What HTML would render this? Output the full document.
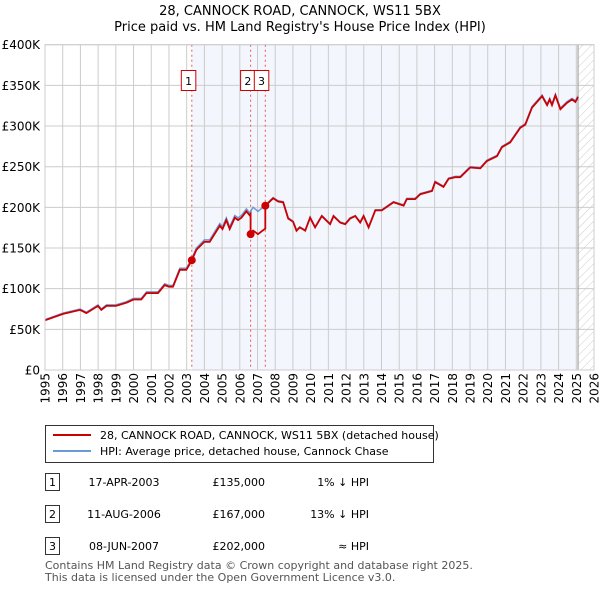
<!DOCTYPE html>
<html><head><meta charset="utf-8"><style>
body{margin:0;background:#fff;font-family:"Liberation Sans","DejaVu Sans",sans-serif;}
svg text{font-family:"DejaVu Sans","Liberation Sans",sans-serif;}
</style></head><body>
<svg id="c" width="600" height="590" viewBox="0 0 600 590" xmlns="http://www.w3.org/2000/svg">
<defs><pattern id="hatch" width="6" height="6" patternUnits="userSpaceOnUse" patternTransform="rotate(45)"><line x1="0" y1="0" x2="0" y2="6" stroke="#ccc" stroke-width="1"/></pattern></defs>
<text x="300" y="15" text-anchor="middle" font-size="13">28, CANNOCK ROAD, CANNOCK, WS11 5BX</text>
<text x="300" y="31" text-anchor="middle" font-size="13">Price paid vs. HM Land Registry's House Price Index (HPI)</text>
<g id="plot"></g>
<g>
<rect x="45.5" y="425.5" width="388" height="37" fill="#fff" stroke="#333"/>
<line x1="53" y1="435" x2="91" y2="435" stroke="#c00" stroke-width="2"/>
<text x="100" y="439" font-size="11">28, CANNOCK ROAD, CANNOCK, WS11 5BX (detached house)</text>
<line x1="53" y1="451" x2="91" y2="451" stroke="#6a9ad8" stroke-width="2"/>
<text x="100" y="455" font-size="11">HPI: Average price, detached house, Cannock Chase</text>
</g>
<g id="table" font-size="11"></g>
<text x="45" y="569" font-size="11" fill="#555">Contains HM Land Registry data © Crown copyright and database right 2025.</text>
<text x="45" y="581" font-size="11" fill="#555">This data is licensed under the Open Government Licence v3.0.</text>
</svg>
<script>
const hpiYears=[1995.0,1996.02,1996.98,1997.34,1997.99,1998.18,1998.47,1999.01,1999.6,1999.99,2000.44,2000.73,2001.01,2001.38,2001.76,2002.0,2002.23,2002.61,2002.98,2003.27,2003.55,2004.0,2004.3,2004.87,2005.02,2005.24,2005.43,2005.72,2005.9,2006.09,2006.37,2006.56,2006.75,2007.03,2007.45,2007.88,2008.16,2008.45,2008.73,2009.01,2009.2,2009.39,2009.69,2009.97,2010.25,2010.63,2011.1,2011.29,2011.67,2011.95,2012.23,2012.52,2012.8,2012.99,2013.27,2013.65,2014.02,2014.68,2015.25,2015.43,2015.9,2016.19,2016.85,2017.03,2017.5,2017.79,2018.16,2018.45,2019.01,2019.58,2019.95,2020.52,2020.8,2021.27,2021.84,2022.12,2022.5,2023.07,2023.35,2023.5,2023.63,2023.82,2024.1,2024.48,2024.76,2024.95,2025.1];
const hpiValues=[62,70,75,71,80,75,80,80,84,88,88,96,96,96,106,104,104,125,125,136,150,160,160,180,176,187,176,190,187,190,198,193,200,195,203,212,208,207,187,183,172,176,172,188,176,190,180,190,182,180,187,190,182,190,176,197,197,207,203,211,211,217,221,232,226,236,238,238,250,249,258,264,275,281,299,303,324,338,327,334,327,339,322,330,334,331,337];
const saleYears=[2003.29,2006.61,2007.44];
const salePrices=[135,167,202];
const saleLabels=["1","2","3"];
const saleDates=["17-APR-2003","11-AUG-2006","08-JUN-2007"];
const salePriceText=["£135,000","£167,000","£202,000"];
const saleHpiText=["1% ↓ HPI","13% ↓ HPI","≈ HPI"];
const yTicks=[0,50,100,150,200,250,300,350,400];
const yTickLabels=["£0","£50K","£100K","£150K","£200K","£250K","£300K","£350K","£400K"];
const xYearTicks=[1995,1996,1997,1998,1999,2000,2001,2002,2003,2004,2005,2006,2007,2008,2009,2010,2011,2012,2013,2014,2015,2016,2017,2018,2019,2020,2021,2022,2023,2024,2025,2026];
const dataEnd=2025.1;

const L=45,R=594,T=44.7,B=370;
const X=y=>L+(y-1995)*(R-L)/31;
const Y=v=>B-v*(B-T)/400;
const NS="http://www.w3.org/2000/svg";
const plot=document.getElementById('plot');
function mk(tag,attrs,parent){const e=document.createElementNS(NS,tag);for(const k in attrs)e.setAttribute(k,attrs[k]);(parent||plot).appendChild(e);return e;}
function hpiAt(y){for(let i=1;i<hpiYears.length;i++){if(y<=hpiYears[i]){const t=(y-hpiYears[i-1])/(hpiYears[i]-hpiYears[i-1]);return hpiValues[i-1]+t*(hpiValues[i]-hpiValues[i-1]);}}return hpiValues[hpiValues.length-1];}

let e=mk('rect',{x:X(saleYears[0]),y:T,width:X(dataEnd)-X(saleYears[0]),height:B-T,fill:'#f3f6fd'});


e=mk('rect',{x:X(dataEnd),y:T,width:R-X(dataEnd),height:B-T,fill:'url(#hatch)'});


yTicks.forEach((v,i)=>{
 e=mk('line',{x1:L,x2:R,y1:Y(v),y2:Y(v),stroke:'#ccc','stroke-width':1});
 
 
 e=mk('text',{x:40,y:Y(v)+4.5,'text-anchor':'end','font-size':12});
 e.textContent=yTickLabels[i];
 
 
});
xYearTicks.forEach(yr=>{
 e=mk('line',{x1:X(yr),x2:X(yr),y1:T,y2:B,stroke:'#ccc','stroke-width':1});
 
 
 e=mk('text',{x:0,y:0,'text-anchor':'end','font-size':12,transform:`translate(${X(yr)+4.5},373) rotate(-90)`});
 e.textContent=yr;
 
 
});
e=mk('line',{x1:X(dataEnd),x2:X(dataEnd),y1:T,y2:B,stroke:'#999','stroke-width':1});


saleYears.forEach((sy,i)=>{
 e=mk('line',{x1:X(sy),x2:X(sy),y1:T,y2:B,stroke:'#e55','stroke-width':1,'stroke-dasharray':'2,3'});
 
 
});
let d=hpiYears.map((y,i)=>(i?'L':'M')+X(y).toFixed(1)+','+Y(hpiValues[i]).toFixed(1)).join('');
e=mk('path',{d:d,fill:'none',stroke:'#6a9ad8','stroke-width':1.5});


function ratioAt(y){let r=salePrices[0]/hpiAt(saleYears[0]);for(let i=0;i<saleYears.length;i++){if(y>=saleYears[i])r=salePrices[i]/hpiAt(saleYears[i]);}return r;}
let pts=[];
const allY=hpiYears.concat(saleYears).sort((a,b)=>a-b);
allY.forEach(y=>{
 const si=saleYears.indexOf(y);
 if(si>0){pts.push([y,hpiAt(y)*ratioAt(y-0.001)]);}
 pts.push([y,hpiAt(y)*ratioAt(y)]);
});
d=pts.map((p,i)=>(i?'L':'M')+X(p[0]).toFixed(1)+','+Y(p[1]).toFixed(1)).join('');
e=mk('path',{d:d,fill:'none',stroke:'#c00','stroke-width':1.8});


const boxOffsets=[-10.5,-10,-11];
saleYears.forEach((sy,i)=>{
 e=mk('circle',{cx:X(sy),cy:Y(salePrices[i]),r:4,fill:'#c00'});
 
 
 const bx=X(sy)+boxOffsets[i];
 e=mk('rect',{x:bx,y:70.5,width:14.5,height:20,fill:'#fff',stroke:'#c00'});
 
 
 e=mk('text',{x:bx+7.25,y:85,'text-anchor':'middle','font-size':11});
 e.textContent=saleLabels[i];
 
 
});
e=mk('rect',{x:L,y:T,width:R-L,height:B-T,fill:'none',stroke:'#ccc'});


const tb=document.getElementById('table');
saleLabels.forEach((lab,i)=>{
 const ty=482+i*32;
 let t=mk('rect',{x:45.5,y:ty-8.5,width:14,height:17,fill:'#fff',stroke:'#333'},tb);
 
 
 t=mk('text',{x:52.5,y:ty+4,'text-anchor':'middle'},tb);t.textContent=lab;
 
 
 t=mk('text',{x:124,y:ty+4,'text-anchor':'middle'},tb);t.textContent=saleDates[i];
 
 
 t=mk('text',{x:265,y:ty+4,'text-anchor':'end'},tb);t.textContent=salePriceText[i];
 
 
 t=mk('text',{x:369,y:ty+4,'text-anchor':'end'},tb);t.textContent=saleHpiText[i];
 
 
});
</script>
</body></html>
